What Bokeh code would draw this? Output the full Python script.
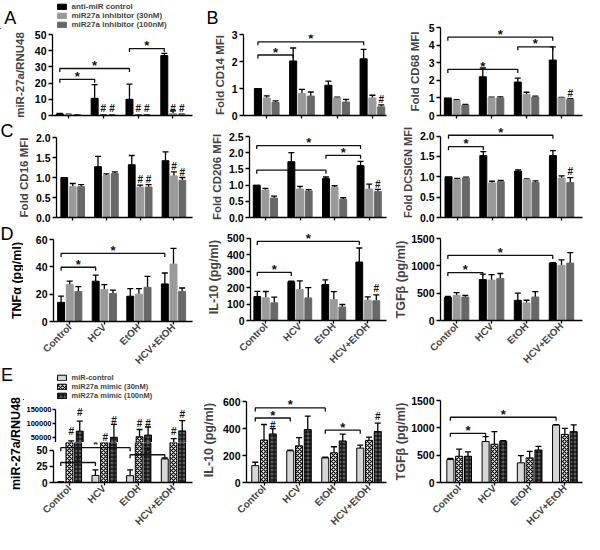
from math import pi
from bokeh.plotting import figure
from bokeh.models import (ColumnDataSource, FixedTicker, Legend, LegendItem, Label,
                          Whisker, TeeHead, Range1d, PrintfTickFormatter)
from bokeh.layouts import row, column
from bokeh.embed import file_html
from bokeh.resources import INLINE
from bokeh.core.properties import value

FONT = "Liberation Sans"
groups = ["Control", "HCV", "EtOH", "HCV+EtOH"]
OFFSETS = [-0.25, 0.0, 0.25]
BAR_W = 0.2

# ---------------- data ----------------
legend_A = ["anti-miR control", "miR27a inhibitor (30nM)", "miR27a inhibitor (100nM)"]
legend_E = ["miR-control", "miR27a mimic (30nM)", "miR27a mimic (100nM)"]

# A  miR-27a/RNU48 (inhibitor)
A_ctrl = [1.0, 10.6, 10.0, 37.0]
A_ctrl_err = [0.3, 8.4, 9.4, 1.4]
A_30 = [0.6, 0.3, 0.3, 1.2]
A_30_err = [0.2, 0.3, 0.3, 1.7]
A_100 = [0.4, 0.2, 0.2, 0.6]
A_100_err = [0.1, 0.1, 0.1, 0.3]
A_ticks = [0, 10, 20, 30, 40, 50]
A_hash = [(1, 1, 4.5), (1, 2, 4.5), (2, 1, 4.5), (2, 2, 4.5), (3, 1, 4.5), (3, 2, 4.5)]
A_brackets = [(0, 1, 22.3), (0, 2, 29.0), (2, 3, 41.3)]

# B  CD14
B_ctrl = [1.0, 2.02, 1.12, 2.1]
B_ctrl_err = [0.0, 0.48, 0.15, 0.35]
B_30 = [0.65, 0.82, 0.65, 0.65]
B_30_err = [0.08, 0.15, 0.03, 0.1]
B_100 = [0.48, 0.72, 0.5, 0.32]
B_100_err = [0.06, 0.15, 0.1, 0.07]
B_ticks = [0, 1, 2, 3]
B_hash = [(3, 2, 0.58)]
B_brackets = [(0, 1, 2.24), (0, 3, 2.73)]

# CD68
G_ctrl = [1.0, 2.2, 1.9, 3.15]
G_ctrl_err = [0.0, 0.5, 0.22, 0.75]
G_30 = [0.85, 1.0, 1.2, 1.0]
G_30_err = [0.05, 0.04, 0.12, 0.03]
G_100 = [0.58, 1.0, 1.05, 0.92]
G_100_err = [0.05, 0.06, 0.05, 0.04]
G_ticks = [0, 1, 2, 3, 4, 5]
G_hash = [(3, 2, 1.25)]
G_brackets = [(0, 2, 2.62), (2, 3, 3.9), (0, 3, 4.45)]

# C  CD16
C_ctrl = [1.0, 1.27, 1.32, 1.42]
C_ctrl_err = [0.0, 0.26, 0.23, 0.22]
C_30 = [0.78, 1.05, 0.76, 1.04]
C_30_err = [0.07, 0.04, 0.05, 0.1]
C_100 = [0.77, 1.1, 0.76, 0.93]
C_100_err = [0.05, 0.04, 0.06, 0.07]
C_ticks = [0.0, 0.5, 1.0, 1.5, 2.0]
C_hash = [(2, 1, 0.94), (2, 2, 0.94), (3, 1, 1.28), (3, 2, 1.13)]

# CD206
M_ctrl = [1.0, 1.72, 1.2, 1.6]
M_ctrl_err = [0.0, 0.28, 0.05, 0.13]
M_30 = [0.85, 0.88, 0.93, 0.88]
M_30_err = [0.05, 0.08, 0.05, 0.15]
M_100 = [0.6, 0.82, 0.56, 0.8]
M_100_err = [0.06, 0.04, 0.05, 0.07]
M_ticks = [0.0, 0.5, 1.0, 1.5, 2.0, 2.5]
M_hash = [(3, 2, 1.03)]
M_brackets = [(0, 2, 1.46), (2, 3, 1.92), (0, 3, 2.22)]

# DCSIGN
S_ctrl = [1.0, 1.52, 1.14, 1.52]
S_ctrl_err = [0.0, 0.1, 0.03, 0.12]
S_30 = [0.93, 0.85, 0.93, 0.97]
S_30_err = [0.03, 0.04, 0.02, 0.05]
S_100 = [0.97, 0.88, 0.86, 0.86]
S_100_err = [0.02, 0.03, 0.04, 0.12]
S_ticks = [0.0, 0.5, 1.0, 1.5, 2.0]
S_hash = [(3, 2, 1.12)]
S_brackets = [(0, 1, 1.74), (0, 3, 2.02)]

# D  TNFa
T_ctrl = [14, 29.5, 18.5, 27.5]
T_ctrl_err = [4.5, 4.5, 5.5, 8]
T_30 = [27, 23.5, 20, 42]
T_30_err = [2.5, 3.5, 4, 11.5]
T_100 = [22, 20.5, 25, 22]
T_100_err = [3.5, 2.5, 8, 2.5]
T_ticks = [0, 20, 40, 60]
T_brackets = [(0, 1, 39.7), (0, 3, 49.8)]

# D  IL-10
I_ctrl = [145, 235, 218, 355]
I_ctrl_err = [32, 4, 28, 85]
I_30 = [138, 188, 128, 123]
I_30_err = [38, 52, 47, 20]
I_100 = [107, 137, 82, 120]
I_100_err = [35, 62, 15, 35]
I_ticks = [0, 100, 200, 300, 400, 500]
I_hash = [(3, 2, 195)]
I_brackets = [(0, 1, 292), (0, 3, 480)]

# D  TGFb
F_ctrl = [420, 750, 370, 1050]
F_ctrl_err = [20, 100, 130, 10]
F_30 = [460, 740, 320, 1010]
F_30_err = [50, 100, 50, 100]
F_100 = [430, 770, 430, 1050]
F_100_err = [30, 90, 100, 190]
F_ticks = [0, 500, 1000, 1500]
F_brackets = [(0, 1, 877), (0, 3, 1190)]

# E  miR-27a/RNU48 (mimic)
E_ctrl = [0.8, 11, 10.5, 36.5]
E_ctrl_err = [0.2, 8.5, 9, 1.5]
E_30 = [21000, 18000, 52000, 30000]
E_30_err = [16000, 3000, 26000, 15000]
E_100 = [72000, 50000, 58000, 73000]
E_100_err = [36000, 46000, 29000, 37000]
E_low_ticks = [0, 25, 50]
E_up_ticks = [50000, 100000, 150000]
E_hash = [(0, 1, 70000), (0, 2, 140000), (1, 1, 48000), (1, 2, 112000),
          (2, 1, 98000), (2, 2, 98000), (3, 1, 70000), (3, 2, 133000)]
E_brackets = [(0, 1, 31), (0, 2, 54), (2, 3, 43)]

# E  IL-10
J_ctrl = [125, 235, 182, 255]
J_ctrl_err = [25, 5, 5, 22]
J_30 = [315, 272, 220, 312]
J_30_err = [115, 60, 45, 25]
J_100 = [360, 392, 308, 378]
J_100_err = [40, 100, 50, 62]
J_ticks = [0, 200, 400, 600]
J_hash = [(0, 2, 423), (3, 2, 487)]
J_brackets = [(0, 1, 478), (0, 2, 553), (2, 3, 388)]

# E  TGFb
K_ctrl = [420, 750, 360, 1050]
K_ctrl_err = [20, 90, 130, 10]
K_30 = [480, 700, 450, 880]
K_30_err = [130, 230, 120, 110]
K_100 = [480, 755, 595, 930]
K_100_err = [80, 10, 65, 125]
K_ticks = [0, 500, 1000, 1500]
K_brackets = [(0, 1, 900), (0, 3, 1194)]

# ---------------- styles ----------------
GRAY_STYLES = [dict(fill_color="#000000", line_color="#000000"),
               dict(fill_color="#9a9a9a", line_color="#9a9a9a"),
               dict(fill_color="#686868", line_color="#686868")]
PAT_STYLES = [dict(fill_color="#d6d6d6", line_color="black", line_width=1),
              dict(fill_color="white", line_color="black", line_width=1,
                   hatch_pattern="diagonal_cross", hatch_color="black", hatch_scale=4, hatch_weight=1.2),
              dict(fill_color="#5a5a5a", line_color="black", line_width=1,
                   hatch_pattern="cross", hatch_color="black", hatch_scale=4, hatch_weight=1)]


def base_fig(w, h, mb, xr, yr, x_axis=True):
    kw = dict(width=w, height=h, output_backend="svg", toolbar_location=None,
              x_range=Range1d(*xr), y_range=Range1d(*yr), frame_align=False,
              min_border_left=int(mb[0]), min_border_right=int(mb[1]),
              min_border_top=int(mb[2]), min_border_bottom=int(mb[3]))
    if not x_axis:
        kw["x_axis_type"] = None
    p = figure(**kw)
    p.outline_line_color = None
    p.grid.visible = False
    p.background_fill_color = "white"
    p.border_fill_color = "white"
    return p


def strip(w, h):
    """Blank area (frame == canvas, 1 unit == 1 px) for panel letters, titles and legends."""
    s = figure(width=w, height=h, output_backend="svg", toolbar_location=None, frame_align=False,
               x_range=Range1d(0, w), y_range=Range1d(0, h), x_axis_type=None, y_axis_type=None,
               min_border_left=0, min_border_right=0, min_border_top=0, min_border_bottom=0)
    s.outline_line_color = None
    s.grid.visible = False
    s.background_fill_color = "white"
    s.border_fill_color = "white"
    return s


def letter(s, txt, lx, ly, h):
    s.add_layout(Label(x=lx, y=h - ly, text=txt, text_font=FONT, text_font_size="18px",
                       text_align="center", text_baseline="middle", text_color="black"))


def vtitle(s, txt, lx, ly, h, fs):
    s.add_layout(Label(x=lx, y=h - ly, text=txt, angle=pi / 2, text_font=FONT,
                       text_font_style="bold", text_font_size=fs, text_align="center",
                       text_baseline="middle", text_color="black"))


def strip_legend(s, labels, styles, x, y, fs, row_h):
    # legend-only renderers: one bar each, placed far outside the visible range
    rs = [s.vbar(x=[-1000], top=[1], width=1, **st) for st in styles]
    leg = Legend(items=[LegendItem(label=l, renderers=[r]) for l, r in zip(labels, rs)],
                 location=(x, y), orientation="vertical",
                 background_fill_alpha=0, border_line_alpha=0, label_text_font=FONT,
                 label_text_font_style="bold", label_text_font_size=fs, glyph_width=11,
                 glyph_height=7, label_height=int(row_h), label_standoff=5, spacing=0,
                 padding=0, margin=0)
    s.add_layout(leg)


def style_axes(p, ticks, fmt, bounds, ylabel, ylabel_fs, standoff, xlabels, tick_fs="10.5px"):
    ya = p.yaxis[0]
    ya.ticker = FixedTicker(ticks=ticks)
    ya.formatter = PrintfTickFormatter(format=fmt)
    ya.bounds = bounds
    ya.minor_tick_line_color = None
    ya.major_tick_in = 0
    ya.major_tick_out = 4
    ya.major_label_standoff = 2
    ya.axis_line_width = 1.3
    ya.major_tick_line_width = 1.3
    ya.major_label_text_font = FONT
    ya.major_label_text_font_style = "bold"
    ya.major_label_text_font_size = tick_fs
    ya.major_label_text_color = "black"
    if ylabel:
        ya.axis_label = ylabel
        ya.axis_label_text_font = FONT
        ya.axis_label_text_font_style = "bold"
        ya.axis_label_text_font_size = ylabel_fs
        ya.axis_label_standoff = standoff
    if p.xaxis:
        xa = p.xaxis[0]
        xa.ticker = FixedTicker(ticks=list(range(len(groups))))
        xa.minor_tick_line_color = None
        xa.major_tick_in = 0
        xa.major_tick_out = 3
        xa.axis_line_width = 1.3
        xa.major_tick_line_width = 1.3
        if xlabels:
            xa.major_label_overrides = {i: g for i, g in enumerate(groups)}
            xa.major_label_orientation = pi / 4
            xa.major_label_text_font = FONT
            xa.major_label_text_font_style = "bold"
            xa.major_label_text_font_size = "10px"
            xa.major_label_standoff = 1
        else:
            xa.major_label_overrides = {i: "" for i in range(len(groups))}
            xa.major_label_text_font_size = "0px"
            xa.major_label_standoff = 0


def add_bars(p, series, errs, styles):
    rs = []
    for k, (vals, err) in enumerate(zip(series, errs)):
        xs = [i + OFFSETS[k] for i in range(len(vals))]
        src = ColumnDataSource(dict(x=xs, top=vals))
        r = p.vbar(x="x", top="top", width=BAR_W, source=src, **styles[k])
        rs.append(r)
        keep = [i for i, e in enumerate(err) if e > 0]
        wsrc = ColumnDataSource(dict(x=[xs[i] for i in keep], lo=[vals[i] for i in keep],
                                     up=[vals[i] + err[i] for i in keep]))
        p.add_layout(Whisker(source=wsrc, base="x", lower="lo", upper="up", dimension="height",
                             line_width=1.3, line_color="black", lower_head=None,
                             upper_head=TeeHead(size=6, line_width=1.3, line_color="black")))
    return rs


def add_marks(p, brackets, hashes, upx, drop_px=3.5, star_px=3.0, star_fs="13px", hash_fs="10px"):
    if brackets:
        xs, ys, sx, sy = [], [], [], []
        for g1, g2, yb in brackets:
            x1 = g1 + OFFSETS[0]
            x2 = g2 + OFFSETS[0]
            d = drop_px * upx
            xs.append([x1, x1, x2, x2])
            ys.append([yb - d, yb, yb, yb - d])
            sx.append((x1 + x2) / 2)
            sy.append(yb + star_px * upx)
        p.multi_line(xs=xs, ys=ys, line_color="#111111", line_width=1.3)
        p.text(x=sx, y=sy, text=["*"] * len(sx), text_align="center", text_baseline="middle",
               text_font=value(FONT), text_font_style="bold", text_font_size=star_fs,
               text_color="#111111")
    if hashes:
        hx = [g + OFFSETS[s] for g, s, _ in hashes]
        hy = [y for _, _, y in hashes]
        p.text(x=hx, y=hy, text=["#"] * len(hx), text_align="center", text_baseline="middle",
               text_font=value(FONT), text_font_style="bold", text_font_size=hash_fs,
               text_color="#111111")


def panel(series, errs, styles, w, h, mb, xr, yr, bounds, ticks, fmt, ylabel, ylabel_fs, standoff,
          xlabels, brackets=None, hashes=None, tick_fs="10.5px"):
    p = base_fig(w, h, mb, xr, yr)
    style_axes(p, ticks, fmt, bounds, ylabel, ylabel_fs, standoff, xlabels, tick_fs)
    rs = add_bars(p, series, errs, styles)
    frame_h = h - int(mb[2]) - int(mb[3])
    upx = (yr[1] - yr[0]) / frame_h
    add_marks(p, brackets, hashes, upx)
    return p, rs


# ================= column 1 =================
sA = strip(195, 29)
letter(sA, "A", 9.7, 17.5, 29)
strip_legend(sA, legend_A, GRAY_STYLES, 55.5, 0.5, "8px", 9)
pA, _ = panel([A_ctrl, A_30, A_100], [A_ctrl_err, A_30_err, A_100_err], GRAY_STYLES,
              195, 92, (52, 3, 5, 6), (-0.46, 3.56), (0, 50), (0, 50), A_ticks, "%d",
              "miR-27a/RNU48", "11.5px", 6, False, A_brackets, A_hash)

sC = strip(14, 102)
letter(sC, "C", 6.5, 9.5, 102)
pC, _ = panel([C_ctrl, C_30, C_100], [C_ctrl_err, C_30_err, C_100_err], GRAY_STYLES,
              181, 102, (38, 3, 16, 6), (-0.48, 3.55), (0, 2), (0, 2), C_ticks, "%.1f",
              "Fold CD16 MFI", "11.5px", 3, False, None, C_hash)

# left strip for rows D and E: letters and the two y-axis titles
sDE = strip(23, 311)
letter(sDE, "D", 6.5, 10.5, 311)
vtitle(sDE, "TNF\u03b1 (pg/ml)", 16.5, 57, 311, "12.5px")
letter(sDE, "E", 6.5, 151.7, 311)
vtitle(sDE, "miR-27a/RNU48", 15.5, 220, 311, "12.5px")

pT, _ = panel([T_ctrl, T_30, T_100], [T_ctrl_err, T_30_err, T_100_err], GRAY_STYLES,
              172, 150, (30, 3, 16, 52), (-0.47, 3.55), (0, 60), (0, 60), T_ticks, "%d",
              None, None, 0, True, T_brackets, None)

sE = strip(172, 27)
strip_legend(sE, legend_E, PAT_STYLES, 32.5, 0.5, "7.5px", 8.4)

UP_LO, UP_HI = 31400, 164000
pEu = base_fig(172, 42, (30, 3, 5, 0), (-0.46, 3.55), (UP_LO, UP_HI), x_axis=False)
style_axes(pEu, E_up_ticks, "%d", (UP_LO, 150000), None, None, 0, False, tick_fs="7.5px")
pEu.yaxis[0].major_tick_out = 3
pEu.yaxis[0].major_label_standoff = 1
add_bars(pEu, [E_ctrl, E_30, E_100], [E_ctrl_err, E_30_err, E_100_err], PAT_STYLES)
add_marks(pEu, None, E_hash, (UP_HI - UP_LO) / 37)

LOW_HI = 62
pEl = base_fig(172, 92, (30, 3, 0, 52), (-0.46, 3.55), (0, LOW_HI))
style_axes(pEl, E_low_ticks, "%d", (0, 50), None, None, 0, True, tick_fs="10px")
add_bars(pEl, [E_ctrl, E_30, E_100], [E_ctrl_err, E_30_err, E_100_err], PAT_STYLES)
add_marks(pEl, E_brackets, None, LOW_HI / 40)

col1 = column(column(sA, pA), row(sC, pC), row(sDE, column(pT, sE, pEu, pEl)))

# ================= column 2 =================
sB = strip(195, 29)
letter(sB, "B", 17, 17.5, 29)
pB, _ = panel([B_ctrl, B_30, B_100], [B_ctrl_err, B_30_err, B_100_err], GRAY_STYLES,
              195, 92, (48, 4, 5, 6), (-0.66, 3.4), (0, 3), (0, 3), B_ticks, "%d",
              "Fold CD14 MFI", "11.5px", 3, False, B_brackets, B_hash)

pM, _ = panel([M_ctrl, M_30, M_100], [M_ctrl_err, M_30_err, M_100_err], GRAY_STYLES,
              195, 102, (54, 4, 15, 6), (-0.46, 3.5), (0, 2.5), (0, 2.5), M_ticks, "%.1f",
              "Fold CD206 MFI", "11.5px", 3, False, M_brackets, M_hash)

pI, _ = panel([I_ctrl, I_30, I_100], [I_ctrl_err, I_30_err, I_100_err], GRAY_STYLES,
              195, 150, (55, 4, 10, 53), (-0.45, 3.55), (0, 528), (0, 500), I_ticks, "%d",
              "IL-10 (pg/ml)", "12.5px", 3, True, I_brackets, I_hash)

pJ, _ = panel([J_ctrl, J_30, J_100], [J_ctrl_err, J_30_err, J_100_err], PAT_STYLES,
              195, 161, (51, 4, 24, 52), (-0.5, 3.5), (0, 630), (0, 600), J_ticks, "%d",
              "IL-10 (pg/ml)", "12.5px", 4, True, J_brackets, J_hash)

col2 = column(column(sB, pB), pM, pI, pJ)

# ================= column 3 =================
pG, _ = panel([G_ctrl, G_30, G_100], [G_ctrl_err, G_30_err, G_100_err], GRAY_STYLES,
              194, 121, (50, 2, 27, 6), (-0.46, 3.6), (0, 5), (0, 5), G_ticks, "%d",
              "Fold CD68 MFI", "11.5px", 5, False, G_brackets, G_hash)

pS, _ = panel([S_ctrl, S_30, S_100], [S_ctrl_err, S_30_err, S_100_err], GRAY_STYLES,
              194, 102, (50, 2, 6, 6), (-0.48, 3.6), (0, 2.21), (0, 2.0), S_ticks, "%.1f",
              "Fold DCSIGN MFI", "11px", 3, False, S_brackets, S_hash)

pF, _ = panel([F_ctrl, F_30, F_100], [F_ctrl_err, F_30_err, F_100_err], GRAY_STYLES,
              194, 150, (50, 2, 15, 53), (-0.46, 3.6), (0, 1500), (0, 1500), F_ticks, "%d",
              "TGF\u03b2 (pg/ml)", "12.5px", 0, True, F_brackets, None)

pK, _ = panel([K_ctrl, K_30, K_100], [K_ctrl_err, K_30_err, K_100_err], PAT_STYLES,
              194, 161, (50, 2, 27, 52), (-0.53, 3.5), (0, 1500), (0, 1500), K_ticks, "%d",
              "TGF\u03b2 (pg/ml)", "12.5px", 0, True, K_brackets, None)

col3 = column(pG, pS, pF, pK)

layout = row(col1, col2, col3)

open("out.html", "w").write(file_html(layout, INLINE))
